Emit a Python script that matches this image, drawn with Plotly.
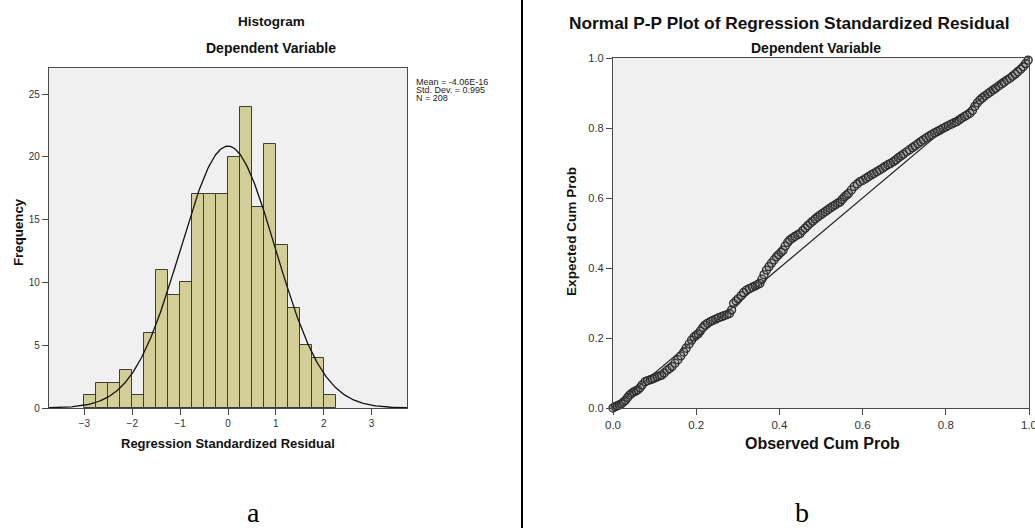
import numpy as np
import plotly.graph_objects as go

# ---------------- data: histogram ----------------
BIN_LEFT = [-3.0, -2.75, -2.5, -2.25, -2.0, -1.75, -1.5, -1.25, -1.0, -0.75, -0.5,
            -0.25, 0.0, 0.25, 0.5, 0.75, 1.0, 1.25, 1.5, 1.75, 2.0]
COUNTS = [1, 2, 2, 3, 1, 6, 11, 9, 10, 17, 17, 17, 20, 24, 16, 21, 13, 8, 5, 4, 1]
BIN_WIDTH = 0.25
MEAN = -4.06e-16
STD = 0.995
N = 208
HIST_YTICKS = [0, 5, 10, 15, 20, 25]
HIST_XTICKS = [-3, -2, -1, 0, 1, 2, 3]

# ---------------- data: P-P plot ----------------
OBS = [0.000, 0.005, 0.010, 0.015, 0.020, 0.025, 0.030, 0.035, 0.040, 0.045, 0.050, 0.055,
       0.060, 0.065, 0.070, 0.077, 0.083, 0.090, 0.095, 0.100, 0.106, 0.112, 0.117, 0.123,
       0.130, 0.136, 0.142, 0.149, 0.156, 0.163, 0.170, 0.176, 0.183, 0.189, 0.195, 0.200,
       0.205, 0.210, 0.216, 0.221, 0.227, 0.234, 0.240, 0.247, 0.254, 0.261, 0.267, 0.274,
       0.280, 0.285, 0.290, 0.296, 0.301, 0.308, 0.314, 0.321, 0.328, 0.335, 0.342, 0.348,
       0.353, 0.358, 0.363, 0.369, 0.375, 0.381, 0.387, 0.393, 0.398, 0.404, 0.409, 0.414,
       0.420, 0.425, 0.431, 0.437, 0.444, 0.450, 0.456, 0.462, 0.468, 0.474, 0.480, 0.486,
       0.492, 0.498, 0.504, 0.510, 0.516, 0.522, 0.528, 0.534, 0.540, 0.546, 0.551, 0.556,
       0.561, 0.566, 0.573, 0.580, 0.587, 0.594, 0.601, 0.608, 0.614, 0.621, 0.627, 0.634,
       0.641, 0.648, 0.654, 0.661, 0.667, 0.674, 0.680, 0.686, 0.692, 0.698, 0.706, 0.713,
       0.720, 0.726, 0.733, 0.740, 0.746, 0.753, 0.760, 0.766, 0.773, 0.780, 0.786, 0.793,
       0.800, 0.806, 0.813, 0.820, 0.826, 0.832, 0.838, 0.845, 0.851, 0.858, 0.864, 0.870,
       0.876, 0.882, 0.888, 0.894, 0.901, 0.907, 0.914, 0.920, 0.927, 0.934, 0.940, 0.947,
       0.954, 0.960, 0.967, 0.973, 0.980, 0.986, 0.992, 0.998]
EXP = [0.000, 0.004, 0.006, 0.009, 0.012, 0.017, 0.022, 0.030, 0.037, 0.042, 0.046, 0.049,
       0.052, 0.058, 0.066, 0.075, 0.078, 0.081, 0.083, 0.086, 0.089, 0.092, 0.094, 0.100,
       0.108, 0.113, 0.119, 0.128, 0.138, 0.149, 0.160, 0.171, 0.183, 0.194, 0.203, 0.208,
       0.212, 0.220, 0.230, 0.237, 0.242, 0.247, 0.250, 0.254, 0.258, 0.261, 0.264, 0.267,
       0.270, 0.280, 0.299, 0.306, 0.312, 0.321, 0.330, 0.337, 0.341, 0.345, 0.349, 0.353,
       0.356, 0.368, 0.381, 0.394, 0.404, 0.414, 0.423, 0.432, 0.438, 0.445, 0.451, 0.463,
       0.473, 0.480, 0.485, 0.490, 0.495, 0.499, 0.507, 0.514, 0.521, 0.528, 0.534, 0.540,
       0.546, 0.551, 0.556, 0.561, 0.566, 0.571, 0.576, 0.580, 0.585, 0.589, 0.596, 0.603,
       0.608, 0.613, 0.623, 0.633, 0.640, 0.647, 0.651, 0.656, 0.661, 0.666, 0.670, 0.675,
       0.680, 0.685, 0.690, 0.695, 0.699, 0.704, 0.709, 0.715, 0.720, 0.725, 0.732, 0.738,
       0.744, 0.749, 0.755, 0.761, 0.766, 0.772, 0.777, 0.781, 0.786, 0.790, 0.794, 0.799,
       0.803, 0.807, 0.811, 0.815, 0.818, 0.823, 0.828, 0.833, 0.837, 0.842, 0.850, 0.862,
       0.872, 0.880, 0.886, 0.892, 0.898, 0.903, 0.909, 0.914, 0.920, 0.926, 0.931, 0.937,
       0.942, 0.948, 0.954, 0.961, 0.968, 0.975, 0.984, 0.994]
DIAG = [0.0, 1.0]
PP_TICKS = [0.0, 0.2, 0.4, 0.6, 0.8, 1.0]

W, H = 1035, 528
FONT = "Liberation Sans, Arial, sans-serif"
BAR_COLOR = "#D3CE97"
EDGE = "#3c3c3c"
FRAME = "#4a4a4a"


def px(x):
    return x / W


def py(y):
    return 1 - y / H


fig = go.Figure()

centers = [b + BIN_WIDTH / 2 for b in BIN_LEFT]
fig.add_trace(go.Bar(x=centers, y=COUNTS, width=BIN_WIDTH,
                     marker=dict(color=BAR_COLOR, line=dict(color=EDGE, width=1)),
                     xaxis="x", yaxis="y", showlegend=False))

xc = np.linspace(-3.75, 3.75, 400)
yc = N * BIN_WIDTH * np.exp(-0.5 * ((xc - MEAN) / STD) ** 2) / (STD * np.sqrt(2 * np.pi))
fig.add_trace(go.Scatter(x=xc, y=yc, mode="lines", line=dict(color="#111111", width=1.3),
                         xaxis="x", yaxis="y", showlegend=False))

fig.add_trace(go.Scatter(x=DIAG, y=DIAG, mode="lines", line=dict(color="#222222", width=1.2),
                         xaxis="x2", yaxis="y2", showlegend=False))
fig.add_trace(go.Scatter(x=OBS, y=EXP, mode="markers",
                         marker=dict(symbol="circle", size=8, color="rgba(90,90,90,0.25)",
                                     line=dict(color="#2a2a2a", width=1.3)),
                         xaxis="x2", yaxis="y2", showlegend=False, cliponaxis=False))

axis_common = dict(showline=True, mirror=True, linecolor=FRAME, linewidth=1.3,
                   ticks="outside", ticklen=6, tickcolor=FRAME, tickwidth=1,
                   showgrid=False, zeroline=False, automargin=False,
                   ticklabeloverflow="allow",
                   tickfont=dict(family=FONT, size=10, color="#333333"))

fig.update_layout(
    width=W, height=H,
    margin=dict(l=0, r=0, t=0, b=0, autoexpand=False),
    paper_bgcolor="white",
    plot_bgcolor="#F0F0F0",
    bargap=0,
    xaxis=dict(domain=[px(49), px(407)], range=[-3.74, 3.74], tickvals=HIST_XTICKS,
               anchor="y", **axis_common),
    yaxis=dict(domain=[py(408), py(68)], range=[0, 27.07], tickvals=HIST_YTICKS,
               anchor="x", **axis_common),
    xaxis2=dict(domain=[px(613), px(1029)], range=[0, 1], tickvals=PP_TICKS,
                tickformat=".1f", anchor="y2", **{**axis_common,
                "tickfont": dict(family=FONT, size=11.5, color="#333333")}),
    yaxis2=dict(domain=[py(408), py(58)], range=[0, 1], tickvals=PP_TICKS,
                tickformat=".1f", anchor="x2", **{**axis_common,
                "tickfont": dict(family=FONT, size=11, color="#333333")}),
)


def ann(text, x, y, size, bold=True, xanchor="center", yanchor="middle", angle=0,
        family=FONT, color="#111111"):
    fig.add_annotation(text=f"<b>{text}</b>" if bold else text, x=px(x), y=py(y),
                       xref="paper", yref="paper", showarrow=False,
                       xanchor=xanchor, yanchor=yanchor, textangle=angle,
                       font=dict(family=family, size=size, color=color))


# left panel texts
ann("Histogram", 271, 22, 13.5)
ann("Dependent Variable", 271, 48, 14)
ann("Frequency", 18, 232, 13.3, angle=-90)
ann("Regression Standardized Residual", 228, 443, 13)
ann("Mean = -4.06E-16", 414, 82, 9, bold=False, xanchor="left", color="#222222")
ann("Std. Dev. = 0.995", 414, 90, 9, bold=False, xanchor="left", color="#222222")
ann("N = 208", 414, 98, 9, bold=False, xanchor="left", color="#222222")

# right panel texts
ann("Normal P-P Plot of Regression Standardized Residual", 789, 23, 17.3)
ann("Dependent Variable", 816, 48, 14)
ann("Expected Cum Prob", 571, 232, 13.6, angle=-90)
ann("Observed Cum Prob", 822, 443, 16)

# panel labels
ann("a", 253, 512, 28, bold=False, family="Liberation Serif, Times New Roman, serif",
    color="#000000")
ann("b", 802, 512, 28, bold=False, family="Liberation Serif, Times New Roman, serif",
    color="#000000")

# separator line between panels
fig.add_shape(type="line", xref="paper", yref="paper", x0=px(522), x1=px(522), y0=0, y1=1,
              line=dict(color="black", width=2))

fig.write_html("out.html", config={"displayModeBar": False},
               post_script="document.body.style.margin='0';"
                           "document.body.style.overflow='hidden';")
